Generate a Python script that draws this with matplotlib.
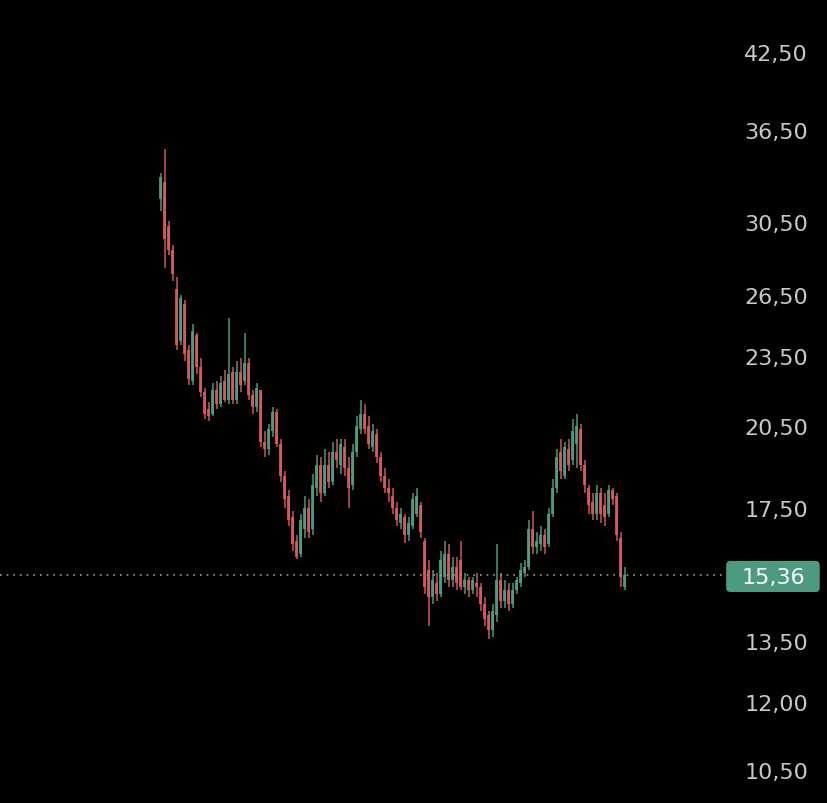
import matplotlib
matplotlib.use("Agg")
import matplotlib.pyplot as plt
import matplotlib.transforms as mtransforms
from matplotlib.patches import FancyBboxPatch

# --- data (daily candles, prices) ---
opens = [31.9, 33.0, 30.3, 28.9, 26.8, 24.2, 26.0, 23.8, 22.4, 24.5,
         23.0, 21.9, 21.2, 21.0, 22.0, 21.4, 22.4, 21.6, 22.8, 21.6,
         22.8, 22.4, 23.2, 21.8, 21.3, 22.0, 19.9, 19.6, 20.3, 21.1,
         19.8, 18.6, 17.9, 17.2, 16.4, 16.0, 16.8, 17.5, 16.8, 18.2,
         19.0, 18.0, 19.0, 18.4, 19.5, 19.0, 19.7, 18.9, 18.3, 19.5,
         20.4, 21.0, 20.5, 19.7, 20.2, 19.3, 18.6, 18.2, 17.9, 17.5,
         17.0, 17.2, 16.6, 16.9, 17.3, 17.6, 16.4, 15.5, 14.7, 15.1,
         14.8, 15.3, 16.0, 15.2, 15.6, 15.8, 15.0, 15.2, 14.9, 15.1,
         15.0, 14.5, 14.2, 13.8, 14.2, 15.2, 14.6, 14.9, 14.5, 14.9,
         15.1, 15.4, 15.6, 16.8, 16.2, 16.3, 16.6, 16.3, 17.3, 18.2,
         19.5, 18.6, 19.6, 19.2, 19.8, 20.4, 19.0, 18.2, 17.7, 17.3,
         18.0, 17.6, 17.3, 18.1, 17.9, 16.5, 15.0]
highs = [33.6, 35.2, 30.6, 29.2, 27.4, 26.5, 26.2, 24.0, 25.0, 24.6,
         23.4, 22.1, 21.5, 22.3, 22.4, 22.6, 22.9, 25.3, 23.0, 23.3,
         23.4, 24.6, 23.4, 22.0, 22.3, 22.0, 20.3, 20.6, 21.3, 21.2,
         20.0, 18.8, 18.1, 17.4, 16.6, 17.3, 17.9, 17.8, 18.7, 19.4,
         19.3, 19.6, 19.5, 19.9, 20.0, 20.0, 20.0, 19.3, 19.8, 20.9,
         21.6, 21.4, 20.9, 20.6, 20.4, 19.5, 18.9, 18.5, 18.2, 17.7,
         17.5, 17.3, 17.2, 18.0, 18.2, 17.7, 16.5, 15.8, 15.5, 15.4,
         16.1, 16.4, 16.3, 15.9, 15.9, 16.4, 15.4, 15.3, 15.3, 15.4,
         15.1, 14.7, 14.3, 14.5, 16.3, 15.4, 15.2, 15.1, 15.1, 15.3,
         15.7, 15.8, 17.1, 17.4, 16.7, 16.9, 16.8, 17.5, 18.5, 19.6,
         20.0, 19.9, 20.0, 20.8, 21.0, 20.6, 19.2, 18.3, 18.0, 18.3,
         18.2, 18.0, 18.3, 18.2, 18.0, 16.7, 15.6]
lows = [31.2, 27.9, 28.6, 27.2, 23.8, 24.0, 23.3, 22.2, 22.2, 22.7,
        21.7, 20.8, 20.7, 20.9, 21.2, 21.3, 21.5, 21.4, 21.4, 21.4,
        21.9, 22.2, 21.6, 21.0, 21.1, 19.7, 19.3, 19.4, 20.1, 19.7,
        18.4, 17.5, 16.9, 16.1, 15.85, 15.9, 16.5, 16.5, 16.6, 17.9,
        17.7, 17.9, 18.2, 18.3, 18.9, 18.7, 18.6, 17.5, 18.1, 19.3,
        20.2, 20.2, 19.6, 19.5, 19.1, 18.4, 18.0, 17.7, 17.3, 16.9,
        16.8, 16.35, 16.4, 16.8, 17.2, 16.5, 14.8, 13.9, 14.5, 14.6,
        14.7, 15.1, 15.0, 15.0, 14.9, 14.9, 14.8, 14.7, 14.8, 14.7,
        14.3, 13.9, 13.55, 13.6, 14.0, 14.4, 14.4, 14.3, 14.4, 14.8,
        15.0, 15.3, 15.5, 16.0, 16.0, 16.1, 16.0, 16.2, 17.2, 18.0,
        18.5, 18.5, 18.8, 19.0, 18.9, 18.8, 18.0, 17.3, 17.1, 17.1,
        17.0, 16.9, 17.2, 17.6, 16.4, 15.0, 14.9]
closes = [33.3, 29.5, 28.9, 27.6, 24.0, 26.3, 23.6, 22.5, 24.7, 23.0,
          21.9, 21.0, 20.9, 22.0, 21.4, 22.3, 21.6, 22.7, 21.6, 22.8,
          22.2, 23.2, 21.8, 21.3, 22.1, 19.9, 19.6, 20.4, 21.1, 19.8,
          18.6, 17.8, 17.1, 16.3, 15.9, 17.1, 17.5, 16.7, 18.3, 19.0,
          18.0, 19.0, 18.4, 19.5, 19.2, 19.8, 18.9, 18.2, 19.5, 20.5,
          21.0, 20.4, 19.8, 20.3, 19.3, 18.6, 18.2, 18.0, 17.5, 17.1,
          17.3, 16.6, 17.0, 17.8, 17.9, 16.7, 15.0, 14.7, 15.2, 14.8,
          15.8, 16.0, 15.2, 15.6, 15.1, 15.0, 15.2, 14.9, 15.2, 15.0,
          14.5, 14.1, 13.8, 14.3, 15.2, 14.6, 14.9, 14.5, 14.9, 15.2,
          15.5, 15.6, 16.8, 16.2, 16.4, 16.6, 16.2, 17.3, 18.2, 19.3,
          18.8, 19.7, 19.0, 20.3, 20.5, 19.0, 18.3, 17.6, 17.3, 18.0,
          17.3, 17.2, 18.1, 17.8, 16.6, 15.3, 15.36]

tick_values = [42.5, 36.5, 30.5, 26.5, 23.5, 20.5, 17.5, 13.5, 12.0, 10.5]
last_price = 15.36

green = "#52a386"
red = "#e0605f"

fig = plt.figure(figsize=(8.28, 8.04), dpi=100, facecolor="black")
ax = fig.add_axes([0, 0, 1, 1])
ax.set_facecolor("black")

# candles
for i in range(len(closes)):
    col = green if closes[i] >= opens[i] else red
    ax.vlines(i, lows[i], highs[i], color=col, linewidth=1.2, alpha=0.85)
    lo, hi = min(opens[i], closes[i]), max(opens[i], closes[i])
    ax.bar(i, hi - lo, bottom=lo, width=0.75, color=col, alpha=0.85, linewidth=0)

ax.set_yscale("log")
ax.set_ylim(9.85, 47.1)
ax.set_xlim(-40.25, 166.75)
ax.axis("off")

# price scale labels on the right
trans = mtransforms.blended_transform_factory(ax.transAxes, ax.transData)
for v in tick_values:
    ax.text(0.976, v, f"{v:.2f}".replace(".", ","), transform=trans,
            ha="right", va="center_baseline", color="#c8c8c8", fontsize=16)

# last price line and tag
ax.plot([0, 0.875], [last_price, last_price], transform=trans,
        color="#9a9a9a", linestyle=(0, (1, 3)), linewidth=1.2)
tag = FancyBboxPatch((0.877, 0.2624), 0.113, 0.0386, transform=ax.transAxes,
                     boxstyle="round,pad=0,rounding_size=0.005",
                     facecolor="#4c9b80", edgecolor="none")
ax.add_patch(tag)
ax.text(0.9336, last_price, f"{last_price:.2f}".replace(".", ","), transform=trans,
        ha="center", va="center_baseline", color="white", fontsize=16)

fig.savefig("out.png", dpi=100, facecolor="black")
